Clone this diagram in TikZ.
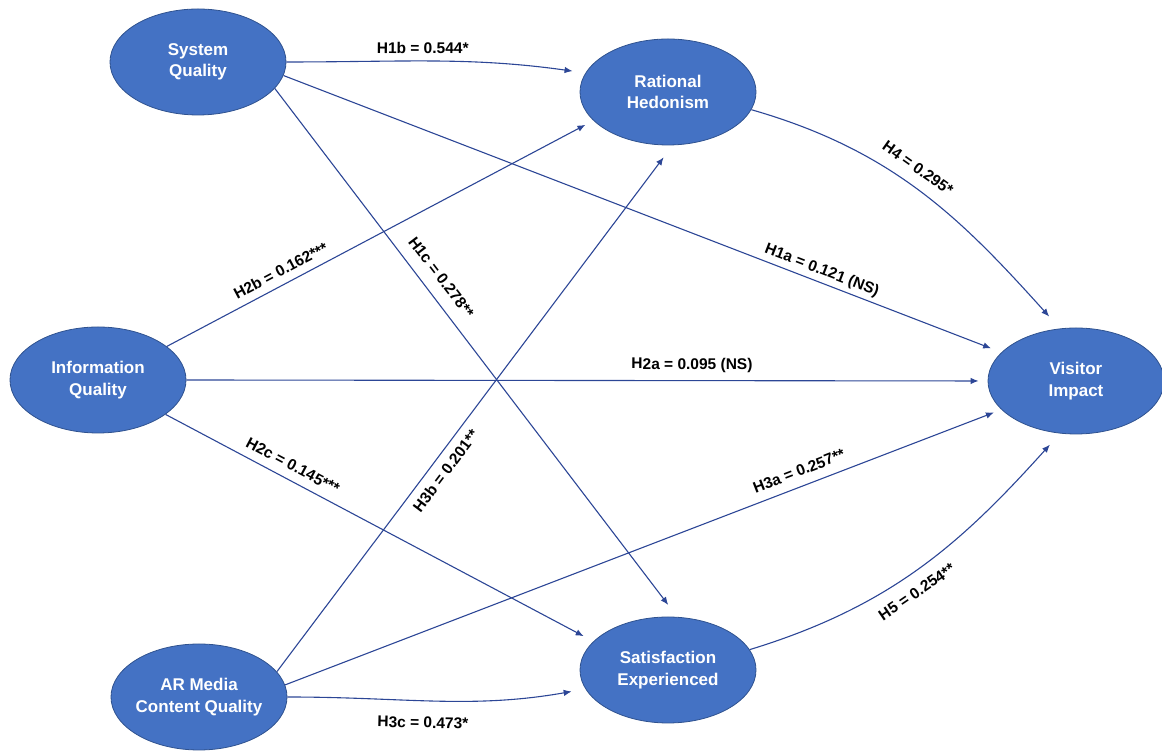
\documentclass[tikz,border=0pt]{standalone}
\usepackage{fontspec}
\setmainfont{Liberation Sans}
\usetikzlibrary{shapes, arrows.meta}
\definecolor{nodeblue}{RGB}{68,114,196}
\definecolor{nodeline}{RGB}{47,82,143}
\definecolor{pathblue}{RGB}{44,70,150}

\begin{document}
\begin{tikzpicture}[x=1pt,y=1pt,
construct/.style={ellipse,fill=nodeblue,draw=nodeline,line width=0.8pt,minimum width=176pt,minimum height=106pt,inner xsep=-4pt,inner ysep=0pt,align=center,text=white,font=\bfseries\fontsize{17}{21.5}\selectfont},
link/.style={draw=pathblue,line width=1.1pt,-{Latex[length=8pt,width=6.5pt]}},
coef/.style={sloped,inner xsep=0pt,text height=11pt,text depth=0pt,text=black,font=\bfseries\fontsize{15.5}{18}\selectfont}]
\useasboundingbox (0,0) rectangle (1162,751);
\node[construct] (sq) at (198,689) {System\\Quality};
\node[construct] (rh) at (668,659) {Rational\\Hedonism};
\node[construct] (iq) at (98,371) {Information\\Quality};
\node[construct] (vi) at (1076,370) {Visitor\\Impact};
\node[construct] (se) at (668,81) {Satisfaction\\Experienced};
\node[construct] (ar) at (199,54) {AR Media\\Content Quality};

\draw[link,shorten >=13pt] (sq.east) to[out=0,in=172] node[coef,pos=0.45,above,inner ysep=7pt] {H1b = 0.544*} (rh.167);
\draw[link,shorten >=11pt] (sq.-9) -- node[coef,pos=0.744,above,inner ysep=7pt] {H1a = 0.121 (NS)} (vi.159);
\draw[link,shorten >=15pt] (sq.-19) -- node[coef,pos=0.378,above,inner ysep=12pt] {H1c = 0.278**} (se.80);
\draw[link,shorten >=9pt] (iq.26) -- node[coef,pos=0.282,above,inner ysep=7.5pt] {H2b = 0.162***} (rh.201);
\draw[link,shorten >=9pt] (iq.east) -- node[coef,pos=0.631,above,inner ysep=11pt] {H2a = 0.095 (NS)} (vi.west);
\draw[link,shorten >=11pt] (iq.-27) -- node[coef,pos=0.282,above,inner ysep=8.5pt] {H2c = 0.145***} (se.159);
\draw[link,shorten >=15pt] (ar.18) -- node[coef,pos=0.398,below,inner ysep=8pt] {H3b = 0.201**} (rh.-85);
\draw[link,shorten >=8pt] (ar.8) -- node[coef,pos=0.725,above,inner ysep=9.5pt] {H3a = 0.257**} (vi.201);
\draw[link,shorten >=14pt] (ar.east) to[out=0,in=190] node[coef,pos=0.45,below,inner ysep=16pt] {H3c = 0.473*} (se.193);
\draw[link,shorten >=16pt] (rh.-12) to[out=-16,in=132] node[coef,pos=0.45,above,inner ysep=12pt] {H4 = 0.295*} (vi.107);
\draw[link,shorten >=15pt] (se.14) to[out=17,in=-132] node[coef,pos=0.45,below,inner ysep=12pt] {H5 = 0.254**} (vi.253);
\end{tikzpicture}
\end{document}
